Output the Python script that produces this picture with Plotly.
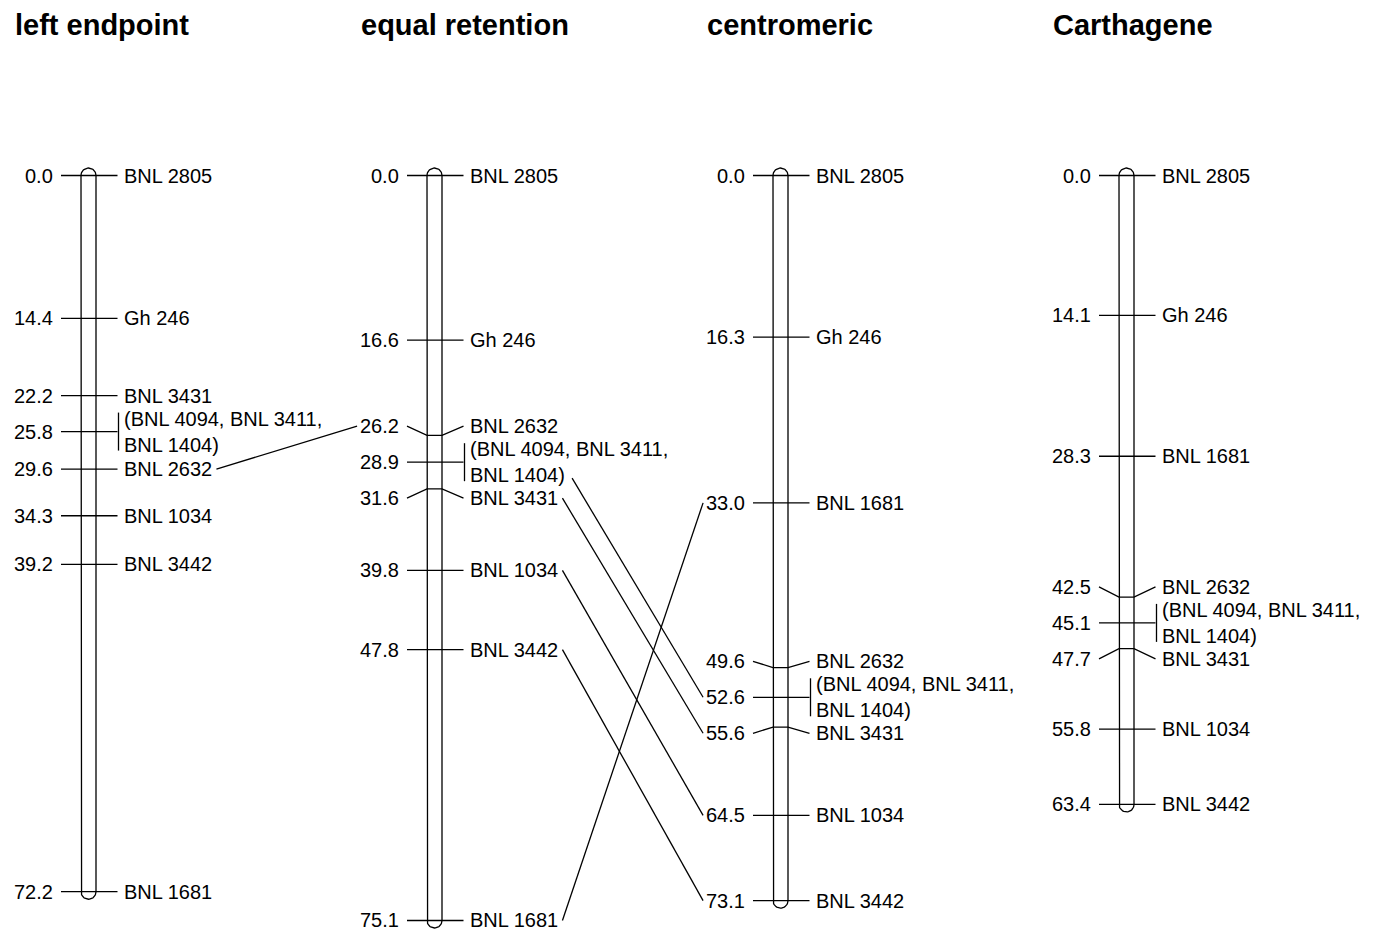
import numpy as np
import plotly.graph_objects as go

# ---------------- data ----------------
MAP_TITLES = ["left endpoint", "equal retention", "centromeric", "Carthagene"]
GROUP = "(BNL 4094, BNL 3411,\nBNL 1404)"

left_pos = [0.0, 14.4, 22.2, 25.8, 29.6, 34.3, 39.2, 72.2]
left_markers = ["BNL 2805", "Gh 246", "BNL 3431", GROUP, "BNL 2632", "BNL 1034", "BNL 3442", "BNL 1681"]

equal_pos = [0.0, 16.6, 26.2, 28.9, 31.6, 39.8, 47.8, 75.1]
equal_markers = ["BNL 2805", "Gh 246", "BNL 2632", GROUP, "BNL 3431", "BNL 1034", "BNL 3442", "BNL 1681"]

centro_pos = [0.0, 16.3, 33.0, 49.6, 52.6, 55.6, 64.5, 73.1]
centro_markers = ["BNL 2805", "Gh 246", "BNL 1681", "BNL 2632", GROUP, "BNL 3431", "BNL 1034", "BNL 3442"]

carth_pos = [0.0, 14.1, 28.3, 42.5, 45.1, 47.7, 55.8, 63.4]
carth_markers = ["BNL 2805", "Gh 246", "BNL 1681", "BNL 2632", GROUP, "BNL 3431", "BNL 1034", "BNL 3442"]

MAP_POSITIONS = [left_pos, equal_pos, centro_pos, carth_pos]
MAP_MARKERS = [left_markers, equal_markers, centro_markers, carth_markers]

# (from map index, marker) -> connected to same marker on the next map
LINKS = [(0, "BNL 2632"), (1, GROUP), (1, "BNL 3431"), (1, "BNL 1034"),
         (1, "BNL 3442"), (1, "BNL 1681")]

# ---------------- layout constants (screen pixel coordinates) ----------------
VIEW_W, VIEW_H = 1373, 932
OFFSET = 8             # page body margin
W, H = VIEW_W - OFFSET, VIEW_H - OFFSET
Y0_PX = 175.5          # screen row of 0 cM
PX_PER_CM = 9.92
X0 = 88.5              # centre of first map
DX = 346               # spacing between maps
BAR_HALF = 7.5
TICK_L = 27.5
TICK_R = 29.0
NAME_GAP = 33.0
POS_GAP = 33.5
FS = 20
MIN_SEP = 36 / PX_PER_CM
LABEL_FONT = "Liberation Sans, Arial, sans-serif"
TITLE_FONT = "Liberation Sans, Arial, sans-serif"

AW = {'B': 667, 'N': 722, 'L': 556, ' ': 278, 'G': 778, 'h': 556, '(': 333,
      ')': 333, ',': 278, '.': 278}


def text_width(s, fs=FS):
    return sum(AW.get(c, 556) for c in s) / 1000.0 * fs


def px(v):
    return v / PX_PER_CM


def spread(pos, sep):
    clusters = [[i] for i in range(len(pos))]
    starts = [pos[i] for i in range(len(pos))]
    changed = True
    while changed:
        changed = False
        for k in range(len(clusters) - 1):
            end_a = starts[k] + (len(clusters[k]) - 1) * sep
            if end_a + sep > starts[k + 1] + 1e-9:
                merged = clusters[k] + clusters[k + 1]
                mean = np.mean([pos[i] for i in merged])
                clusters[k] = merged
                starts[k] = mean - (len(merged) - 1) * sep / 2.0
                del clusters[k + 1]
                del starts[k + 1]
                changed = True
                break
    out = [0.0] * len(pos)
    for c, s in zip(clusters, starts):
        for j, i in enumerate(c):
            out[i] = s + j * sep
    return out


fig = go.Figure()
annotations = []
bar_x, bar_y = [], []
tick_x, tick_y = [], []
label_ys = []

for mi, (title, pos, names) in enumerate(zip(MAP_TITLES, MAP_POSITIONS, MAP_MARKERS)):
    cx = X0 + DX * mi
    top, bot = min(pos), max(pos)
    ry = px(BAR_HALF)
    # bar outline with rounded ends
    xs = [cx - BAR_HALF, cx - BAR_HALF]
    ys = [top, bot]
    th = np.linspace(np.pi, 0, 25)
    xs += list(cx + BAR_HALF * np.cos(th)); ys += list(bot + ry * np.sin(th))
    xs += [cx + BAR_HALF]; ys += [top]
    th = np.linspace(0, -np.pi, 25)
    xs += list(cx + BAR_HALF * np.cos(th)); ys += list(top + ry * np.sin(th))
    bar_x += xs + [None]; bar_y += ys + [None]

    lab = spread(pos, MIN_SEP)
    label_ys.append(lab)
    for p, ly, name in zip(pos, lab, names):
        tick_x += [cx - TICK_L, cx - BAR_HALF, cx + BAR_HALF, cx + TICK_R, None]
        tick_y += [ly, p, p, ly, None]
        if "\n" in name:
            tick_x += [cx + TICK_R + 1, cx + TICK_R + 1, None]
            tick_y += [ly - px(19), ly + px(19), None]
        annotations.append(dict(x=cx - POS_GAP, y=ly, text=f"{p:.1f}", xanchor="right",
                                yanchor="middle", showarrow=False,
                                font=dict(family=LABEL_FONT, size=FS, color="black")))
        annotations.append(dict(x=cx + NAME_GAP, y=ly, text=name.replace("\n", "<br>"),
                                xanchor="left", yanchor="middle", align="left",
                                showarrow=False,
                                font=dict(family=LABEL_FONT, size=FS, color="black")))
    annotations.append(dict(x=cx - 75.5, y=px(25 - Y0_PX), text=title, xanchor="left",
                            yanchor="middle", showarrow=False,
                            font=dict(family=TITLE_FONT, size=29, color="black",
                                      weight="bold")))

# connectors between maps
con_x, con_y = [], []
for mi, name in LINKS:
    i1 = MAP_MARKERS[mi].index(name)
    i2 = MAP_MARKERS[mi + 1].index(name)
    cx1 = X0 + DX * mi
    cx2 = X0 + DX * (mi + 1)
    last_line = name.split("\n")[-1]
    sx = cx1 + NAME_GAP + text_width(last_line) + (9 if "\n" in name else 6)
    sy = label_ys[mi][i1] + (px(16) if "\n" in name else 0)
    ptxt = f"{MAP_POSITIONS[mi + 1][i2]:.1f}"
    ex = cx2 - POS_GAP - text_width(ptxt) - 5
    ey = label_ys[mi + 1][i2]
    con_x += [sx, ex, None]
    con_y += [sy, ey, None]

line_style = dict(color="black", width=1.3)
fig.add_trace(go.Scatter(x=bar_x, y=bar_y, mode="lines", line=line_style, hoverinfo="skip"))
fig.add_trace(go.Scatter(x=tick_x, y=tick_y, mode="lines", line=line_style, hoverinfo="skip"))
fig.add_trace(go.Scatter(x=con_x, y=con_y, mode="lines", line=line_style, hoverinfo="skip"))

fig.update_layout(
    width=W, height=H, margin=dict(l=0, r=0, t=0, b=0),
    paper_bgcolor="white", plot_bgcolor="white", showlegend=False,
    annotations=annotations,
    xaxis=dict(range=[OFFSET, OFFSET + W], visible=False, fixedrange=True),
    yaxis=dict(range=[px(OFFSET + H - Y0_PX), px(-Y0_PX + OFFSET)], visible=False,
               fixedrange=True),
)
fig.write_html("out.html")
